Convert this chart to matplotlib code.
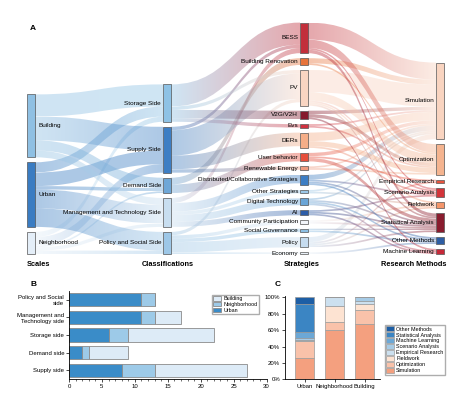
import numpy as np
import matplotlib
matplotlib.use('Agg')
from matplotlib import pyplot as plt
from matplotlib.path import Path
from matplotlib.patches import PathPatch, Rectangle
from matplotlib.colors import to_rgb

plt.rcParams['font.family'] = ['Liberation Sans', 'DejaVu Sans']

# ---------------- data ----------------
# panel B (classification x scale counts)
b_cats = ['Supply side', 'Demand side', 'Storage side',
          'Management and\nTechnology side', 'Policy and Social\nside']
b_urban = [8, 2, 6, 11, 11]
b_neigh = [5, 1, 3, 2, 2]
b_build = [14, 6, 13, 4, 0]

# panel C (research methods share per scale, %)
c_scales = ['Urban', 'Neighborhood', 'Building']
c_methods = ['Simulation', 'Optimization', 'Fieldwork', 'Empirical Research',
             'Scenario Analysis', 'Machine Learning', 'Statistical Analysis', 'Other Methods']
c_values = {
    'Simulation':           [26, 60, 67],
    'Optimization':         [21, 10, 18],
    'Fieldwork':            [0, 19, 7],
    'Empirical Research':   [1, 11, 3],
    'Scenario Analysis':    [2, 0, 5],
    'Machine Learning':     [8, 0, 0],
    'Statistical Analysis': [34, 0, 0],
    'Other Methods':        [8, 0, 0],
}
c_colors = ['#F4A07F', '#F9C2AA', '#FDE3D2', '#CCE0EF',
            '#A6CBE6', '#6CA8D6', '#3B85C3', '#1D5EA5']

# panel A (sankey)
scales = ['Building', 'Urban', 'Neighborhood']
classes = ['Storage Side', 'Supply Side', 'Demand Side',
           'Management and Technology Side', 'Policy and Social Side']
strategies = ['BESS', 'Building Renovation', 'PV', 'V2G/V2H', 'Evs', 'DERs',
              'User behavior', 'Renewable Energy', 'Distributed/Collaborative Strategies',
              'Other Strategies', 'Digital Technology', 'AI', 'Community Participation',
              'Social Governance', 'Policy', 'Economy']
methods = ['Simulation', 'Optimization', 'Empirical Research', 'Scenario Analysis',
           'Fieldwork', 'Statistical Analysis', 'Other Methods', 'Machine Learning']

scale_colors = ['#8FC0E3', '#3A7CC2', '#E4EEF8']
class_colors = ['#8EC2E5', '#3D7EC4', '#6EA7D7', '#C8DEF0', '#9DC7E7']
strategy_colors = ['#C22F3B', '#E8733A', '#F9D5C2', '#851B2D', '#D0313F', '#F5AE88',
                   '#E64E3B', '#EE9B80', '#3D7EC4', '#9CC8E8', '#6AA5D7', '#2D5DA7',
                   '#F2F5FA', '#8DBFE3', '#C6DCEF', '#EAF1F8']
method_colors = ['#F9D4C0', '#F5B48F', '#E8543E', '#D3343A', '#F4956A',
                 '#891C2E', '#2E5EA4', '#C62838']

# classification -> strategy
class_strategy = [
    ('Storage Side', 'BESS', 13), ('Storage Side', 'V2G/V2H', 5),
    ('Storage Side', 'Evs', 2), ('Storage Side', 'PV', 2),
    ('Supply Side', 'PV', 15), ('Supply Side', 'DERs', 8),
    ('Supply Side', 'BESS', 2), ('Supply Side', 'Renewable Energy', 2),
    ('Demand Side', 'Building Renovation', 4), ('Demand Side', 'User behavior', 5),
    ('Management and Technology Side', 'Distributed/Collaborative Strategies', 5),
    ('Management and Technology Side', 'Other Strategies', 2),
    ('Management and Technology Side', 'Digital Technology', 4),
    ('Management and Technology Side', 'AI', 3),
    ('Management and Technology Side', 'BESS', 3),
    ('Policy and Social Side', 'Community Participation', 2),
    ('Policy and Social Side', 'Social Governance', 2),
    ('Policy and Social Side', 'Policy', 6),
    ('Policy and Social Side', 'Economy', 1),
    ('Policy and Social Side', 'PV', 2),
]

# strategy -> research method
strategy_method = [
    ('BESS', 'Simulation', 10), ('BESS', 'Optimization', 5),
    ('BESS', 'Statistical Analysis', 2), ('BESS', 'Scenario Analysis', 1),
    ('Building Renovation', 'Simulation', 3), ('Building Renovation', 'Optimization', 1),
    ('PV', 'Simulation', 13), ('PV', 'Optimization', 5), ('PV', 'Fieldwork', 1),
    ('PV', 'Scenario Analysis', 1), ('PV', 'Statistical Analysis', 1),
    ('V2G/V2H', 'Simulation', 2), ('V2G/V2H', 'Optimization', 2),
    ('V2G/V2H', 'Machine Learning', 1),
    ('Evs', 'Simulation', 1), ('Evs', 'Optimization', 1),
    ('DERs', 'Simulation', 5), ('DERs', 'Optimization', 3), ('DERs', 'Scenario Analysis', 1),
    ('User behavior', 'Simulation', 2), ('User behavior', 'Empirical Research', 1),
    ('User behavior', 'Statistical Analysis', 2),
    ('Renewable Energy', 'Simulation', 1), ('Renewable Energy', 'Optimization', 1),
    ('Distributed/Collaborative Strategies', 'Simulation', 3),
    ('Distributed/Collaborative Strategies', 'Statistical Analysis', 1),
    ('Distributed/Collaborative Strategies', 'Other Methods', 1),
    ('Distributed/Collaborative Strategies', 'Scenario Analysis', 1),
    ('Other Strategies', 'Simulation', 1), ('Other Strategies', 'Fieldwork', 1),
    ('Digital Technology', 'Simulation', 1), ('Digital Technology', 'Statistical Analysis', 1),
    ('Digital Technology', 'Machine Learning', 1), ('Digital Technology', 'Other Methods', 1),
    ('AI', 'Machine Learning', 1), ('AI', 'Statistical Analysis', 1),
    ('AI', 'Scenario Analysis', 1),
    ('Community Participation', 'Fieldwork', 1),
    ('Community Participation', 'Statistical Analysis', 1),
    ('Social Governance', 'Statistical Analysis', 1), ('Social Governance', 'Other Methods', 1),
    ('Policy', 'Simulation', 3), ('Policy', 'Statistical Analysis', 1),
    ('Policy', 'Empirical Research', 1), ('Policy', 'Fieldwork', 1),
    ('Economy', 'Other Methods', 1),
]

# scale -> classification, taken from panel B
b_to_class = ['Supply Side', 'Demand Side', 'Storage Side',
              'Management and Technology Side', 'Policy and Social Side']
scale_class = []
for name, vals in zip(scales, [b_build, b_urban, b_neigh]):
    for cls in classes:
        v = vals[b_to_class.index(cls)]
        if v > 0:
            scale_class.append((name, cls, v))

# ---------------- layout ----------------
W, H = 461, 401
fig = plt.figure(figsize=(W / 100, H / 100), dpi=100)
ax = fig.add_axes([0, 0, 1, 1])
ax.axis('off')

K = 1.7          # px per paper
GAP = 5.0
Y_BOTTOM = 254
NODE_W = 8
col_x = [27, 163, 300, 436]
columns = [scales, classes, strategies, methods]
col_colors = [scale_colors, class_colors, strategy_colors, method_colors]
links = [scale_class, class_strategy, strategy_method]


def node_sizes(col):
    inn = {n: 0 for n in columns[col]}
    out = {n: 0 for n in columns[col]}
    if col > 0:
        for s, t, v in links[col - 1]:
            inn[t] += v
    if col < 3:
        for s, t, v in links[col]:
            out[s] += v
    return [max(inn[n], out[n]) for n in columns[col]]


def stack(sizes):
    total = sum(sizes) * K + GAP * (len(sizes) - 1)
    y = Y_BOTTOM - total
    tops = []
    for v in sizes:
        tops.append(y)
        y += v * K + GAP
    return tops


sizes = [node_sizes(i) for i in range(4)]
tops = [stack(s) for s in sizes]


def draw_flow(x0, x1, y0a, y0b, y1a, y1b, c0, c1, alpha=0.42):
    xm = (x0 + x1) / 2
    verts = [(x0, y0a), (xm, y0a), (xm, y1a), (x1, y1a), (x1, y1b),
             (xm, y1b), (xm, y0b), (x0, y0b), (x0, y0a)]
    codes = [Path.MOVETO, Path.CURVE4, Path.CURVE4, Path.CURVE4, Path.LINETO,
             Path.CURVE4, Path.CURVE4, Path.CURVE4, Path.CLOSEPOLY]
    patch = PathPatch(Path(verts, codes), facecolor='none', edgecolor='none')
    ax.add_patch(patch)
    g = np.linspace(0, 1, 64)[:, None]
    rgba = np.zeros((1, 64, 4))
    rgba[0, :, :3] = (1 - g) * np.array(to_rgb(c0)) + g * np.array(to_rgb(c1))
    rgba[0, :, 3] = alpha
    lo = min(y0a, y1a)
    hi = max(y0b, y1b)
    im = ax.imshow(rgba, extent=(x0, x1, hi, lo), aspect='auto',
                   interpolation='bilinear', zorder=1)
    im.set_clip_path(patch)


# flows
for col in range(3):
    src_names, dst_names = columns[col], columns[col + 1]
    out_off = {n: 0.0 for n in src_names}
    in_off = {n: 0.0 for n in dst_names}
    # order outgoing by target position, incoming by source position
    out_order = sorted(links[col], key=lambda l: (src_names.index(l[0]), dst_names.index(l[1])))
    y_src = {}
    for l in out_order:
        s, t, v = l
        y = tops[col][src_names.index(s)] + out_off[s]
        y_src[l] = y
        out_off[s] += v * K
    in_order = sorted(links[col], key=lambda l: (dst_names.index(l[1]), src_names.index(l[0])))
    for l in in_order:
        s, t, v = l
        y1 = tops[col + 1][dst_names.index(t)] + in_off[t]
        in_off[t] += v * K
        y0 = y_src[l]
        draw_flow(col_x[col] + NODE_W, col_x[col + 1], y0, y0 + v * K, y1, y1 + v * K,
                  col_colors[col][src_names.index(s)], col_colors[col + 1][dst_names.index(t)])

# nodes and labels
for col in range(4):
    for i, name in enumerate(columns[col]):
        h = sizes[col][i] * K
        ax.add_patch(Rectangle((col_x[col], tops[col][i]), NODE_W, h,
                               facecolor=col_colors[col][i], edgecolor='#555555',
                               lw=0.5, zorder=3))
        yc = tops[col][i] + h / 2
        if col == 0:
            ax.text(col_x[col] + NODE_W + 3, yc, name, fontsize=4.6, va='center', ha='left')
        else:
            ax.text(col_x[col] - 2, yc, name, fontsize=4.6, va='center', ha='right', zorder=4)

ax.text(27, 265, 'Scales', fontsize=5.3, fontweight='bold', va='center', ha='left')
ax.text(168, 265, 'Classifications', fontsize=5.3, fontweight='bold', va='center', ha='center')
ax.text(302, 265, 'Strategies', fontsize=5.3, fontweight='bold', va='center', ha='center')
ax.text(414, 265, 'Research Methods', fontsize=5.3, fontweight='bold', va='center', ha='center')
ax.text(33, 29, 'A', fontsize=6, fontweight='bold', va='center', ha='center')
ax.text(33, 285, 'B', fontsize=6, fontweight='bold', va='center', ha='center')
ax.text(278, 285, 'C', fontsize=6, fontweight='bold', va='center', ha='center')
ax.set_xlim(0, W)
ax.set_ylim(H, 0)

# ---------------- panel B ----------------
axb = fig.add_axes([69 / W, 1 - 379 / H, 197.6 / W, 88 / H])
yb = np.arange(len(b_cats))
kw = dict(height=0.75, edgecolor='#8a8a8a', linewidth=0.6)
axb.barh(yb, b_urban, color='#3A8CC8', label='Urban', **kw)
axb.barh(yb, b_neigh, left=b_urban, color='#9DCAE8', label='Neighborhood', **kw)
axb.barh(yb, b_build, left=np.add(b_urban, b_neigh), color='#DDEBF7', label='Building', **kw)
axb.set_xlim(0, 30)
axb.set_ylim(-0.5, 4.5)
axb.set_yticks(yb)
axb.set_yticklabels(b_cats, fontsize=4.3, multialignment='right')
axb.set_xticks(np.arange(0, 31, 5))
axb.set_xticks(np.arange(0, 31, 1), minor=True)
axb.tick_params(axis='x', labelsize=4.3, length=2, width=0.5, pad=1.5)
axb.tick_params(axis='x', which='minor', length=1.2, width=0.4)
axb.tick_params(axis='y', length=2, width=0.5, pad=1.5)
for sp in ['top', 'right']:
    axb.spines[sp].set_visible(False)
for sp in ['left', 'bottom']:
    axb.spines[sp].set_linewidth(0.6)
h, l = axb.get_legend_handles_labels()
axb.legend(h[::-1], l[::-1], loc='upper left', bbox_to_anchor=(209 / W, 1 - 292 / H),
           bbox_transform=fig.transFigure, fontsize=3.9, frameon=True, fancybox=False,
           edgecolor='#999999', handlelength=1.5, handleheight=0.9, labelspacing=0.1,
           borderpad=0.3, handletextpad=0.4)

# ---------------- panel C ----------------
axc = fig.add_axes([285 / W, 1 - 379.3 / H, 94.5 / W, 83.3 / H])
xc = np.arange(len(c_scales))
bottom = np.zeros(len(c_scales))
for m, col in zip(c_methods, c_colors):
    vals = np.array(c_values[m], dtype=float)
    axc.bar(xc, vals, bottom=bottom, width=0.62, color=col, edgecolor='#9a9a9a',
            linewidth=0.5, label=m)
    bottom += vals
axc.set_xlim(-0.65, 2.5)
axc.set_ylim(0, 101.6)
axc.set_yticks(np.arange(0, 101, 20))
axc.set_yticklabels([f'{v}%' for v in range(0, 101, 20)])
axc.set_xticks(xc)
axc.set_xticklabels(c_scales)
axc.tick_params(labelsize=4.3, length=2, width=0.5, pad=1.5)
for sp in ['top', 'right']:
    axc.spines[sp].set_visible(False)
for sp in ['left', 'bottom']:
    axc.spines[sp].set_linewidth(0.6)
h, l = axc.get_legend_handles_labels()
axc.legend(h[::-1], l[::-1], loc='upper left', bbox_to_anchor=(382 / W, 1 - 322 / H),
           bbox_transform=fig.transFigure, fontsize=3.9, frameon=True, fancybox=False,
           edgecolor='#999999', handlelength=1.4, handleheight=1.0, labelspacing=0.12,
           borderpad=0.3, handletextpad=0.4)

fig.savefig('out.png', dpi=100)
